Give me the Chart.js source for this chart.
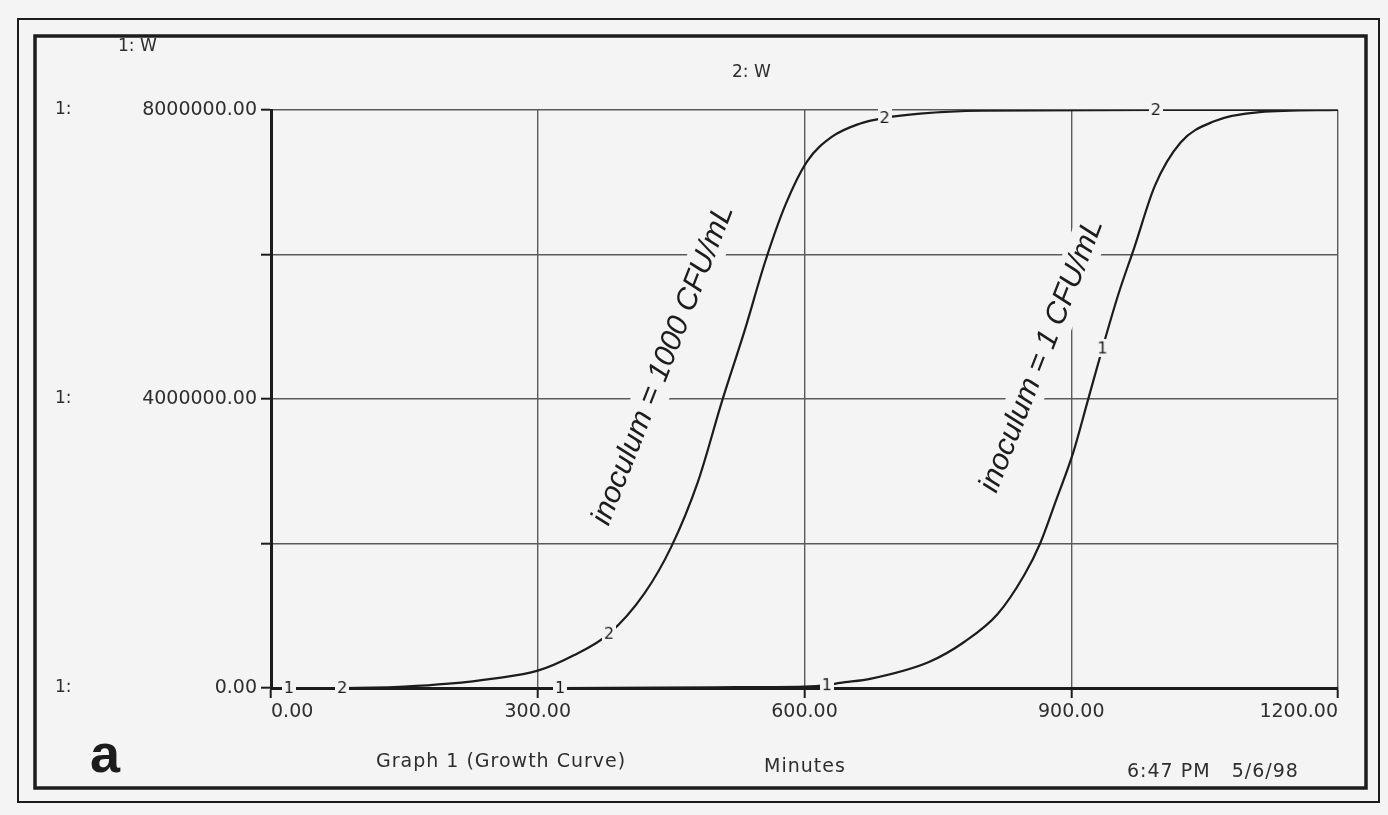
<!DOCTYPE html>
<html>
<head>
<meta charset="utf-8">
<title>Graph 1 (Growth Curve)</title>
<script src="https://cdn.jsdelivr.net/npm/chart.js@4.4.1/dist/chart.umd.min.js"></script>
<style>
  html, body { margin: 0; padding: 0; background: #f4f4f4; }
  #wrap { width: 1388px; height: 815px; }
</style>
</head>
<body>
<div id="wrap"><canvas id="growth" width="1388" height="815"></canvas></div>
<script>
// readings taken off the scanned STELLA plot (minutes -> W)
const minutes1 = [0, 20, 325, 500, 600, 625, 640, 675, 740, 780, 817, 847, 865, 883, 902, 918, 935, 953, 971, 994, 1023, 1060, 1112, 1200];
const growth1  = [0, 0, 0, 10000, 20000, 40000, 70000, 130000, 360000, 640000, 1020000, 1560000, 2000000, 2600000, 3250000, 3950000, 4700000, 5450000, 6100000, 6950000, 7550000, 7840000, 7970000, 8000000];

const minutes2 = [0, 80, 150, 200, 250, 300, 340, 380, 420, 450, 480, 507, 533, 556, 579, 603, 631, 662, 690, 730, 800, 995, 1200];
const growth2  = [0, 0, 20000, 60000, 130000, 240000, 450000, 750000, 1310000, 1950000, 2850000, 3960000, 4960000, 5910000, 6700000, 7290000, 7630000, 7810000, 7890000, 7950000, 7990000, 8000000, 8000000];

// where STELLA stamped the series numbers on each curve
const marks1 = [20, 325, 625, 935];
const marks2 = [80, 380, 690, 995];

const xTicks = [0, 300, 600, 900, 1200];
const yLabelled = [0, 4000000, 8000000];

const BG = "#f4f4f4";
const INK = "#1c1c1c";
const TXT = "#2e2e2e";
const FONT = "'DejaVu Sans', 'Liberation Sans', sans-serif";

const pts = (xs, ys) => xs.map((x, i) => ({ x, y: ys[i] }));

// small stamp with the series number, blanking the line behind it
function stamp(n) {
  const c = document.createElement("canvas");
  c.width = 14; c.height = 18;
  const g = c.getContext("2d");
  g.fillStyle = BG;
  g.fillRect(0, 0, 14, 18);
  g.fillStyle = INK;
  g.font = "16px " + FONT;
  g.textAlign = "center";
  g.textBaseline = "middle";
  g.fillText(String(n), 7, 9.5);
  return c;
}
const stamp1 = stamp(1), stamp2 = stamp(2);

const curveLabels = [
  { text: "inoculum = 1000 CFU/mL", minute: 441, value: 4470000, length: 345 },
  { text: "inoculum = 1 CFU/mL", minute: 867, value: 4600000, length: 295 }
];
const LABEL_ANGLE = -68.5 * Math.PI / 180;

const stellaPlugin = {
  id: "stella",
  beforeDraw(chart) {
    const ctx = chart.ctx;
    ctx.save();
    ctx.fillStyle = BG;
    ctx.fillRect(0, 0, chart.width, chart.height);
    ctx.restore();
  },
  beforeDatasetsDraw(chart) {
    const { ctx, scales: { x, y } } = chart;
    curveLabels.forEach(l => {
      ctx.save();
      ctx.font = "italic 30px 'Liberation Sans', Arial, sans-serif";
      const size = Math.round(30 * l.length / ctx.measureText(l.text).width);
      ctx.font = `italic ${size}px 'Liberation Sans', Arial, sans-serif`;
      const w = ctx.measureText(l.text).width;
      ctx.translate(x.getPixelForValue(l.minute), y.getPixelForValue(l.value));
      ctx.rotate(LABEL_ANGLE);
      ctx.fillStyle = BG;
      ctx.fillRect(-w / 2 - 4, -size * 0.6, w + 8, size * 1.2);
      ctx.fillStyle = INK;
      ctx.textAlign = "center";
      ctx.textBaseline = "middle";
      ctx.fillText(l.text, 0, 0);
      ctx.restore();
    });
  },
  afterDraw(chart) {
    const { ctx, scales: { y } } = chart;
    ctx.save();
    // double frame
    ctx.strokeStyle = INK;
    ctx.lineWidth = 2;
    ctx.strokeRect(18, 19, 1361, 783);
    ctx.lineWidth = 3.5;
    ctx.strokeRect(35, 36, 1331, 752);

    ctx.fillStyle = TXT;
    ctx.font = "17px " + FONT;
    ctx.textBaseline = "middle";
    ctx.textAlign = "left";
    ctx.fillText("1: W", 118, 47);
    ctx.fillText("2: W", 732, 73);
    yLabelled.forEach(v => ctx.fillText("1:", 55, y.getPixelForValue(v)));

    ctx.font = "19px " + FONT;
    ctx.letterSpacing = "1px";
    ctx.fillText("Graph 1 (Growth Curve)", 376, 762);
    ctx.fillText("Minutes", 764, 767);
    ctx.fillText("6:47 PM   5/6/98", 1127, 772);
    ctx.letterSpacing = "0px";

    ctx.fillStyle = INK;
    ctx.font = "bold 54px 'Liberation Sans', Arial, sans-serif";
    ctx.fillText("a", 90, 757);
    ctx.restore();
  }
};

const markerSet = (xs, ys, marks, img) => ({
  data: pts(xs, ys),
  showLine: false,
  clip: false,
  pointStyle: img,
  pointRadius: c => marks.includes(c.raw.x) ? 8 : 0,
  pointHoverRadius: 0
});

const lineSet = (xs, ys) => ({
  data: pts(xs, ys),
  borderColor: INK,
  borderWidth: 2.2,
  pointRadius: 0,
  cubicInterpolationMode: "monotone",
  fill: false
});

Chart.defaults.font.family = FONT;
Chart.defaults.color = TXT;

new Chart(document.getElementById("growth"), {
  type: "line",
  data: {
    datasets: [
      markerSet(minutes1, growth1, marks1, stamp1),
      markerSet(minutes2, growth2, marks2, stamp2),
      lineSet(minutes1, growth1),
      lineSet(minutes2, growth2)
    ]
  },
  options: {
    responsive: false,
    animation: false,
    devicePixelRatio: 1,
    layout: { padding: { top: 110, right: 50, bottom: 0, left: 0 } },
    plugins: { legend: { display: false }, tooltip: { enabled: false } },
    scales: {
      x: {
        type: "linear",
        min: 0, max: 1200,
        afterBuildTicks: s => { s.ticks = xTicks.map(v => ({ value: v })); },
        afterFit: s => { s.height = 127; },
        ticks: {
          align: "inner",
          font: { size: 19 },
          color: TXT,
          padding: 3,
          maxRotation: 0,
          callback: v => Number(v).toFixed(2)
        },
        grid: { color: "#5a5a5a", lineWidth: 1.4, tickLength: 10, tickColor: INK, tickWidth: 2 },
        border: { color: INK, width: 3 }
      },
      y: {
        min: 0, max: 8000000,
        ticks: {
          stepSize: 2000000,
          font: { size: 19 },
          color: TXT,
          padding: 4,
          callback: v => yLabelled.includes(v) ? Number(v).toFixed(2) : ""
        },
        afterFit: s => { s.width = 271; },
        grid: { color: "#5a5a5a", lineWidth: 1.4, tickLength: 10, tickColor: INK, tickWidth: 2 },
        border: { color: INK, width: 3 }
      }
    }
  },
  plugins: [stellaPlugin]
});
</script>
</body>
</html>
